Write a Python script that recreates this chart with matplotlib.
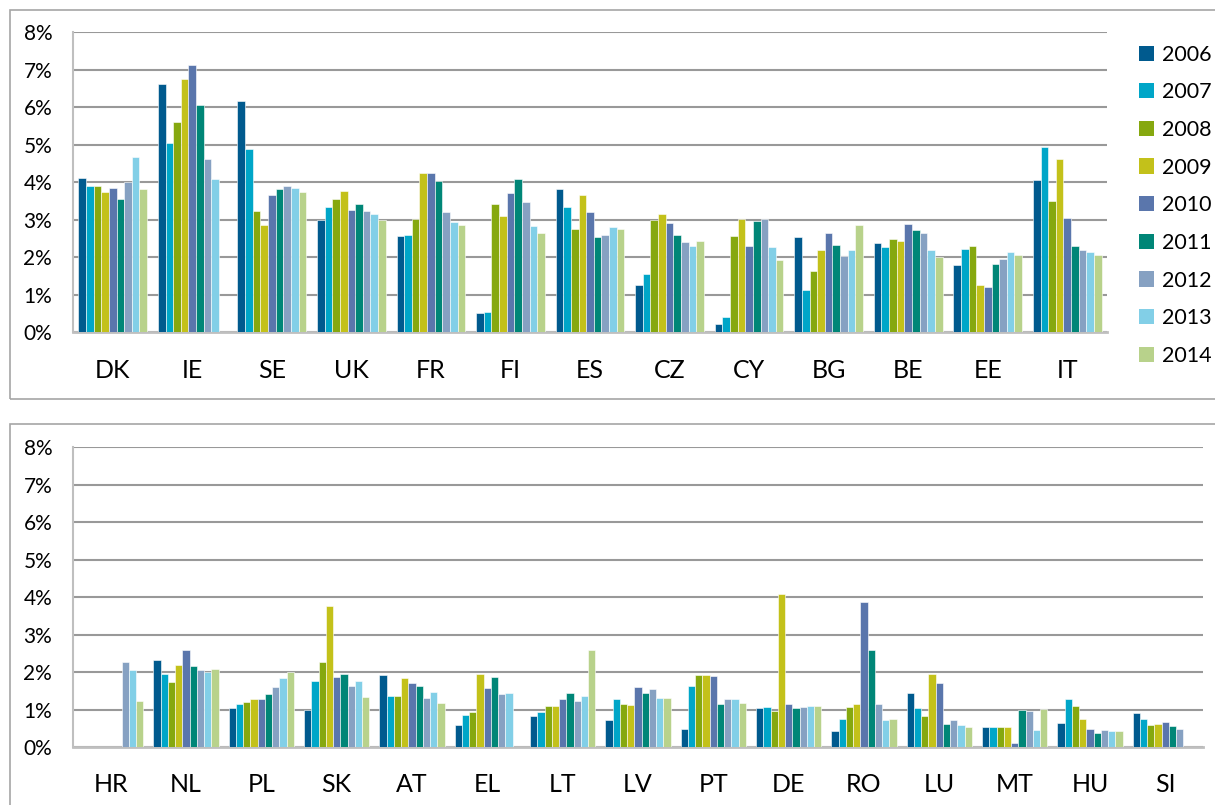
import numpy as np
import matplotlib
matplotlib.use("Agg")
import matplotlib.pyplot as plt
from matplotlib.patches import Rectangle, Patch

plt.rcParams['font.family'] = ['Lato', 'DejaVu Sans']

years = ['2006', '2007', '2008', '2009', '2010', '2011', '2012', '2013', '2014']
colors = ['#005A8E', '#00A6C8', '#86A80F', '#C3C11A', '#5A76AC',
          '#008677', '#86A1C2', '#82CFE7', '#B8D28B']

nan = np.nan

# top panel: countries and values (%), one row per country, columns = years
top_countries = ['DK', 'IE', 'SE', 'UK', 'FR', 'FI', 'ES', 'CZ', 'CY', 'BG', 'BE', 'EE', 'IT']
top_values = [
    [4.12, 3.90, 3.91, 3.75, 3.84, 3.55, 4.00, 4.68, 3.82],  # DK
    [6.61, 5.04, 5.60, 6.75, 7.14, 6.06, 4.61, 4.09, nan],   # IE
    [6.17, 4.89, 3.24, 2.86, 3.67, 3.81, 3.91, 3.85, 3.74],  # SE
    [2.99, 3.35, 3.56, 3.76, 3.26, 3.43, 3.23, 3.15, 2.99],  # UK
    [2.57, 2.59, 3.02, 4.26, 4.25, 4.04, 3.22, 2.95, 2.86],  # FR
    [0.52, 0.54, 3.43, 3.10, 3.71, 4.09, 3.48, 2.83, 2.64],  # FI
    [3.81, 3.35, 2.76, 3.66, 3.21, 2.54, 2.60, 2.80, 2.76],  # ES
    [1.26, 1.55, 3.00, 3.15, 2.91, 2.60, 2.40, 2.30, 2.43],  # CZ
    [0.21, 0.41, 2.56, 3.01, 2.30, 2.96, 3.02, 2.27, 1.93],  # CY
    [2.54, 1.12, 1.63, 2.20, 2.66, 2.32, 2.04, 2.19, 2.87],  # BG
    [2.38, 2.28, 2.48, 2.44, 2.88, 2.73, 2.64, 2.19, 2.01],  # BE
    [1.79, 2.21, 2.30, 1.26, 1.20, 1.81, 1.96, 2.14, 2.05],  # EE
    [4.07, 4.95, 3.49, 4.62, 3.04, 2.30, 2.20, 2.14, 2.07],  # IT
]

# bottom panel
bottom_countries = ['HR', 'NL', 'PL', 'SK', 'AT', 'EL', 'LT', 'LV', 'PT', 'DE', 'RO', 'LU', 'MT', 'HU', 'SI']
bottom_values = [
    [nan, nan, nan, nan, nan, nan, 2.26, 2.06, 1.22],        # HR
    [2.31, 1.96, 1.74, 2.20, 2.59, 2.15, 2.06, 2.01, 2.07],  # NL
    [1.05, 1.14, 1.21, 1.29, 1.29, 1.42, 1.61, 1.83, 2.00],  # PL
    [1.00, 1.76, 2.27, 3.77, 1.86, 1.96, 1.63, 1.75, 1.33],  # SK
    [1.92, 1.36, 1.37, 1.85, 1.70, 1.64, 1.30, 1.46, 1.17],  # AT
    [0.58, 0.85, 0.93, 1.94, 1.58, 1.86, 1.41, 1.45, nan],   # EL
    [0.82, 0.94, 1.09, 1.09, 1.29, 1.45, 1.22, 1.37, 2.59],  # LT
    [0.72, 1.29, 1.15, 1.12, 1.59, 1.45, 1.54, 1.32, 1.31],  # LV
    [0.47, 1.62, 1.92, 1.91, 1.89, 1.15, 1.27, 1.27, 1.17],  # PT
    [1.04, 1.06, 0.97, 4.07, 1.14, 1.04, 1.06, 1.09, 1.10],  # DE
    [0.44, 0.74, 1.06, 1.14, 3.88, 2.60, 1.14, 0.71, 0.76],  # RO
    [1.45, 1.03, 0.82, 1.94, 1.72, 0.62, 0.73, 0.58, 0.54],  # LU
    [0.53, 0.53, 0.53, 0.53, 0.12, 0.99, 0.97, 0.45, 1.02],  # MT
    [0.63, 1.27, 1.09, 0.76, 0.47, 0.38, 0.46, 0.44, 0.44],  # HU
    [0.90, 0.76, 0.60, 0.61, 0.66, 0.57, 0.47, nan, nan],    # SI
]

W, H = 1215, 805
fig = plt.figure(figsize=(W / 100, H / 100), dpi=100)

# panel frames (in pixels)
fig.add_artist(Rectangle((10.5 / W, 1 - 399 / H), 1.0, (399 - 10) / H,
                         transform=fig.transFigure, fill=False, ec='#A6A6A6', lw=1.2))
fig.add_artist(Rectangle((10.5 / W, -0.1), 1.0, 0.1 + (805 - 424) / H,
                         transform=fig.transFigure, fill=False, ec='#A6A6A6', lw=1.2))

grid_c = '#999999'
bw = 0.096


def draw_panel(ax, countries, values):
    vals = np.array(values)
    x = np.arange(len(countries))
    for j in range(len(years)):
        ax.bar(x + (j - 4) * bw, vals[:, j], width=bw, color=colors[j],
               edgecolor='white', linewidth=0.4, label=years[j], zorder=3)
    ax.set_xlim(-0.5, len(countries) - 0.5)
    ax.set_ylim(0, 8)
    ax.set_yticks(range(0, 9))
    ax.set_yticklabels([f'{v}%' for v in range(0, 9)], fontsize=15)
    ax.set_xticks(x)
    ax.set_xticklabels(countries, fontsize=18)
    ax.tick_params(axis='x', length=0, pad=19)
    ax.tick_params(axis='y', length=0, pad=15)
    ax.grid(axis='y', color=grid_c, lw=1.5, zorder=0)
    for s in ['top', 'right']:
        ax.spines[s].set_visible(False)
    ax.spines['left'].set_color('#BFBFBF')
    ax.spines['left'].set_linewidth(1.5)
    ax.spines['bottom'].set_color('#BFBFBF')
    ax.spines['bottom'].set_linewidth(2)
    ax.set_axisbelow(True)


ax1 = fig.add_axes([73 / W, (H - 332.3) / H, (1107 - 73) / W, 300 / H])
draw_panel(ax1, top_countries, top_values)

ax2 = fig.add_axes([73 / W, (H - 747) / H, (1203 - 73) / W, 300 / H])
draw_panel(ax2, bottom_countries, bottom_values)

handles = [Patch(facecolor=c, edgecolor='none') for c in colors]
fig.legend(handles, years, loc='upper left', bbox_to_anchor=(1130 / W, 1 - 36 / H),
           frameon=False, fontsize=15.5, handlelength=0.7, handleheight=0.7,
           handletextpad=0.4, labelspacing=0.82, borderaxespad=0)

fig.savefig('out.png', dpi=100)
